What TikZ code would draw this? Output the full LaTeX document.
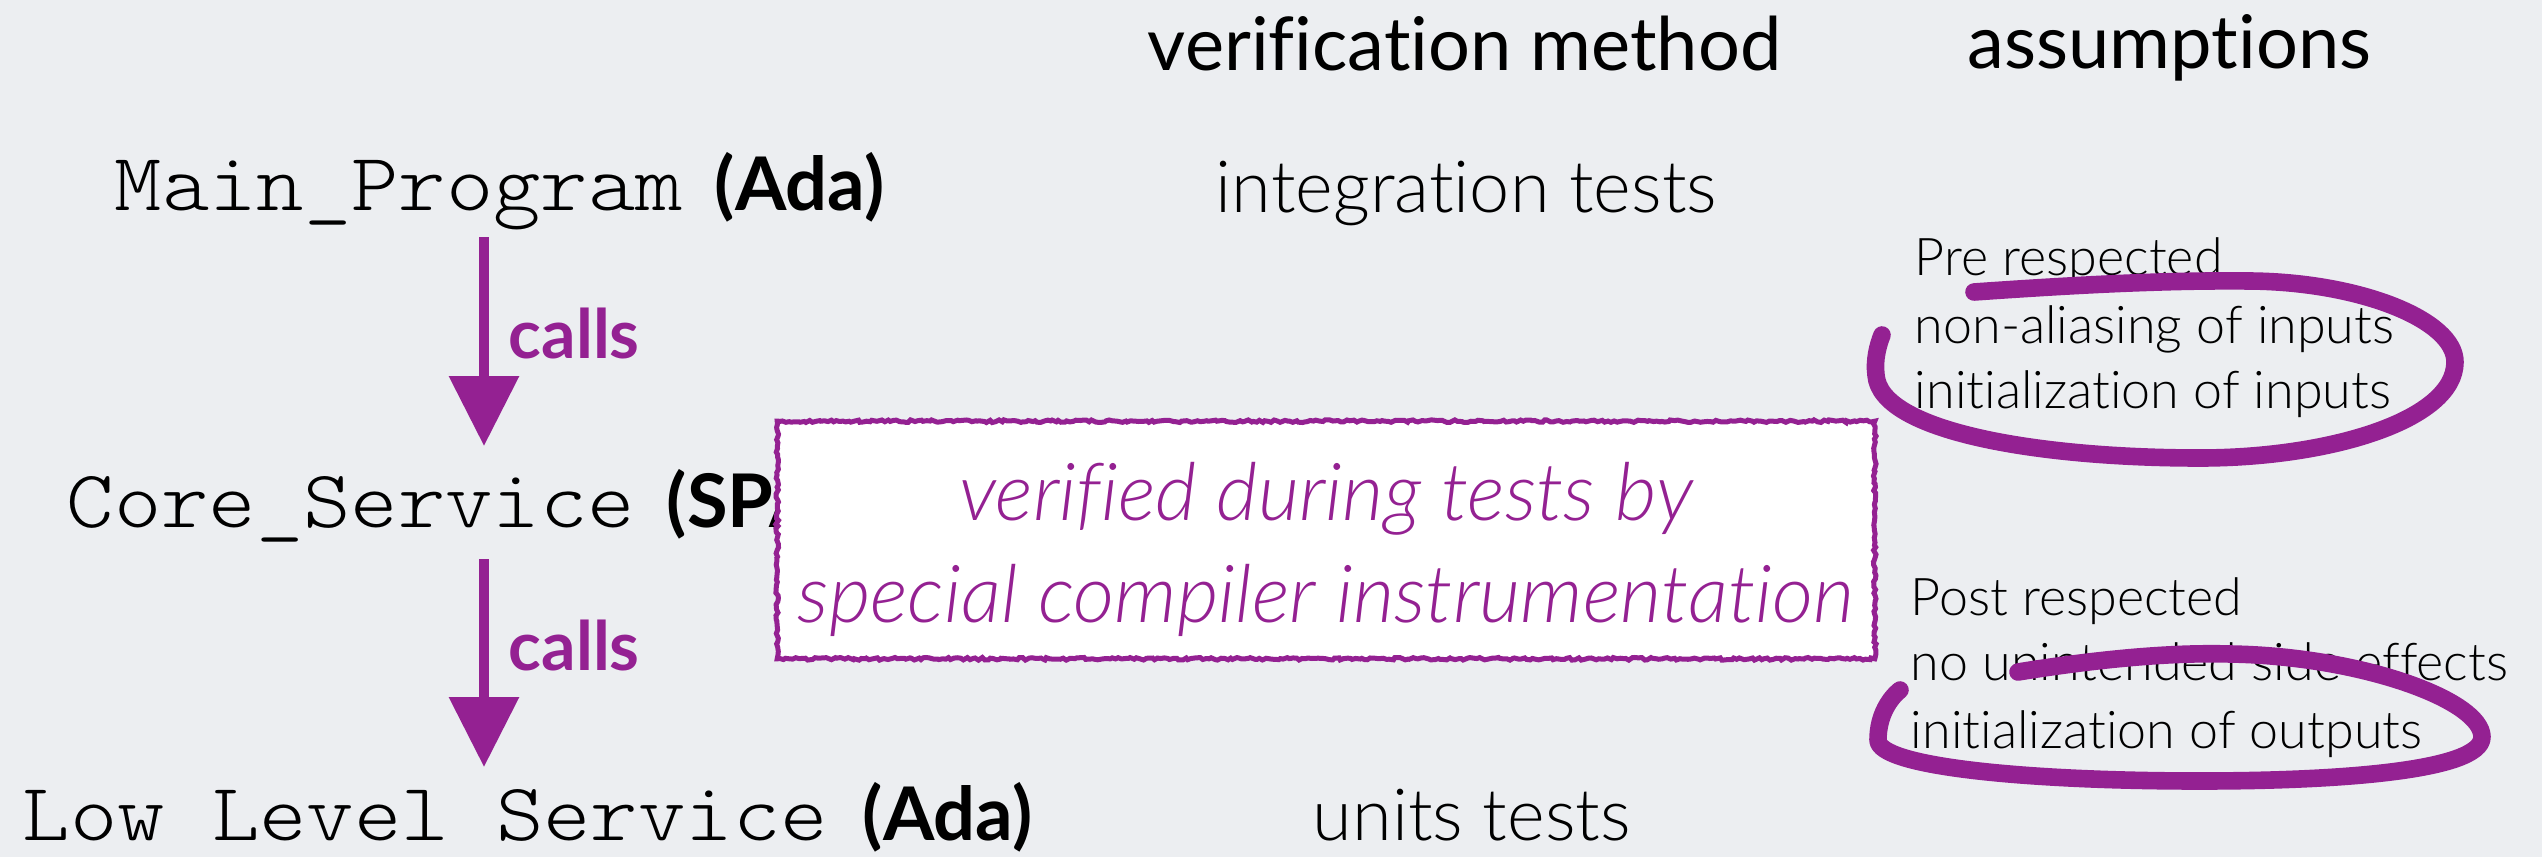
\documentclass[tikz,border=0pt]{standalone}
\usepackage{fontspec}
\usetikzlibrary{arrows.meta,decorations.pathmorphing}
\newfontfamily\lightfont{Lato Light}[Ligatures=NoCommon]
\newfontfamily\lightitfont{Lato Light Italic}[Ligatures=NoCommon]
\newfontfamily\regfont{Lato}[Ligatures=NoCommon]
\newfontfamily\heavyfont{Lato Bold}[Ligatures=NoCommon]
\newfontfamily\codefont{Latin Modern Mono Light}[FakeStretch=1.1]
\definecolor{pplum}{RGB}{148,33,146}
\definecolor{slidebg}{RGB}{236,238,241}
% one drawing unit = 0.25pt
\tikzset{
  txt/.style={inner sep=0pt, anchor=base west, text=black},
  head/.style={txt, font=\regfont\fontsize{18.5}{18.5}\selectfont},
  code/.style={txt, font=\codefont\fontsize{20.5}{20.5}\selectfont},
  lang/.style={txt, font=\heavyfont\fontsize{18.5}{18.5}\selectfont},
  method/.style={txt, font=\lightfont\fontsize{18}{18}\selectfont},
  assume/.style={txt, font=\lightfont\fontsize{13}{13}\selectfont},
  calls/.style={txt, text=pplum, font=\heavyfont\fontsize{17}{17}\selectfont},
  boxtext/.style={inner sep=0pt, anchor=base, text=pplum, font=\lightitfont\fontsize{20}{20}\selectfont},
  callarrow/.style={draw=pplum, line width=2.5pt, -{Triangle[width=17pt,length=17.5pt]}},
  roughline/.style={draw=pplum, line width=1.25pt, decorate,
    decoration={random steps, segment length=0.75pt, amplitude=0.33pt}},
  scribble/.style={draw=pplum, line width=4.4pt, line cap=round, line join=round},
  scribblefringe/.style={draw=pplum, line width=1pt, line cap=round, line join=round, decorate,
    decoration={random steps, segment length=0.8pt, amplitude=1.2pt}},
  loopone/.style={insert path={(1974,292) .. controls (2060,286) and (2160,280) .. (2250,281)
      .. controls (2360,282) and (2455,320) .. (2455,362)
      .. controls (2455,420) and (2330,458) .. (2200,458)
      .. controls (2040,458) and (1880,432) .. (1876,375)
      .. controls (1874,360) and (1878,345) .. (1882,335)}},
  looptwo/.style={insert path={(2018,672) .. controls (2080,662) and (2160,652) .. (2230,654)
      .. controls (2360,656) and (2482,700) .. (2482,737)
      .. controls (2482,772) and (2330,781) .. (2200,781)
      .. controls (2030,781) and (1878,767) .. (1878,740)
      .. controls (1878,715) and (1890,698) .. (1900,690)}},
}
\begin{document}
\begin{tikzpicture}[x=0.25pt,y=-0.25pt]
\useasboundingbox (0,0) rectangle (2542,857);
\fill[slidebg] (0,0) rectangle (2542,857);
\pgfmathsetseed{7}

% column headings
\node[head] (hmethod) at (1147,70) {verification method};
\node[head] (hassume) at (1967,68) {assumptions};

% call chain
\node[code] (main) at (114,210) {Main\_Program};
\node[lang] (mainlang) at (714,210) {(Ada)};
\node[code] (core) at (66,527) {Core\_Service};
\node[lang] (corelang) at (666,527) {(SPARK)};
\node[code] (low) at (22,840) {Low Level Service};
\node[lang] (lowlang) at (862,840) {(Ada)};

\node[method] (minteg) at (1215,212) {integration tests};
\node[method] (munits) at (1312,840) {units tests};

% call arrows
\coordinate (a1s) at (484,237);
\coordinate (a1e) at (484,446);
\coordinate (a2s) at (484,559);
\coordinate (a2e) at (484,767);
\draw[callarrow] (a1s) -- (a1e);
\draw[callarrow] (a2s) -- (a2e);
\node[calls] (calls1) at (508,358) {calls};
\node[calls] (calls2) at (508,670) {calls};

% instrumentation box
\node[fill=white, inner sep=0pt, minimum width=274pt, minimum height=59pt] (vbox) at (1326,540) {};
\draw[roughline] (vbox.north west) rectangle (vbox.south east);
\node[boxtext] (vt1) at (1326,520) {verified during tests by};
\node[boxtext] (vt2) at (1326,622) {special compiler instrumentation};

% assumptions
\node[assume] (pre1) at (1914,275) {Pre respected};
\node[assume] (pre2) at (1914,343) {non-aliasing of inputs};
\node[assume] (pre3) at (1914,408) {initialization of inputs};
\node[assume] (post1) at (1910,615) {Post respected};
\node[assume] (post2) at (1910,680) {no unintended side effects};
\node[assume] (post3) at (1910,748) {initialization of outputs};

% hand-drawn loops
\draw[scribble] [loopone];
\draw[scribblefringe] [loopone];
\draw[scribble] [looptwo];
\draw[scribblefringe] [looptwo];
\end{tikzpicture}
\end{document}
